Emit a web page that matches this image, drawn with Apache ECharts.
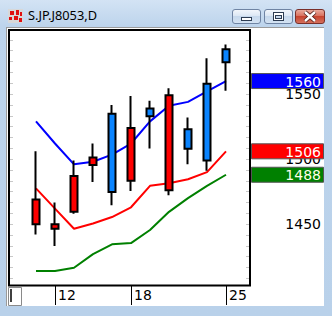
<!DOCTYPE html>
<html><head><meta charset="utf-8">
<script src="https://cdn.jsdelivr.net/npm/echarts@6/dist/echarts.min.js"></script>
<style>
html,body{margin:0;padding:0;width:332px;height:316px;overflow:hidden;}
#win{position:absolute;left:0;top:0;width:332px;height:316px;background:linear-gradient(to bottom,#d3e3f4 0px,#bdd4ec 26px,#b9d1ea 100%);}
#client{position:absolute;left:6px;top:27px;width:317px;height:278px;background:#fff;border-left:1px solid #9a9a9a;border-top:1px solid #9a9a9a;}
#title{position:absolute;left:28px;top:9px;font-family:"Noto Sans";font-size:12.8px;line-height:12px;color:#000;white-space:nowrap;}
#icon{position:absolute;left:8px;top:9px;width:15px;height:14px;background:#d8d8d8;}
#icon i{position:absolute;background:#e01010;}
.btn{position:absolute;top:9px;height:13px;border:1px solid #6f84a3;border-radius:3px;background:linear-gradient(to bottom,#f2f6fb 0%,#dce7f4 45%,#c6d8ec 50%,#d4e3f3 100%);}
#bmin{left:232px;width:27px;}
#bmax{left:264px;width:27px;}
#bclose{left:295px;width:28px;border-color:#7a2f29;background:linear-gradient(to bottom,#e9a99c 0%,#d9725f 45%,#c7442f 50%,#d5705c 100%);}
#chart{position:absolute;left:0;top:0;width:332px;height:316px;}
</style>
</head><body>
<div id="win">
  <div id="icon"><i style="left:2px;top:2px;width:4px;height:4px"></i><i style="left:8px;top:1px;width:3px;height:5px"></i><i style="left:12px;top:3px;width:2px;height:4px"></i><i style="left:1px;top:8px;width:3px;height:3px"></i><i style="left:6px;top:7px;width:4px;height:4px"></i><i style="left:11px;top:9px;width:3px;height:4px"></i></div>
  <div id="title">S.JP.J8053,D</div>
  <div class="btn" id="bmin"><svg width="27" height="13" style="position:absolute;left:0;top:0"><rect x="8.5" y="7.5" width="10" height="3" fill="#fff" stroke="#2d3c52"/></svg></div>
  <div class="btn" id="bmax"><svg width="27" height="13" style="position:absolute;left:0;top:0"><rect x="8.5" y="2.5" width="10" height="8" fill="#fff" stroke="#2d3c52"/><rect x="10.5" y="5.5" width="6" height="3" fill="#c6d8ec" stroke="#2d3c52"/></svg></div>
  <div class="btn" id="bclose"><svg width="28" height="13" style="position:absolute;left:0;top:0"><path d="M9 2 L19 11 M19 2 L9 11" stroke="#4a1a14" stroke-width="4"/><path d="M9 2 L19 11 M19 2 L9 11" stroke="#fff" stroke-width="2.4"/></svg></div>
  <div id="client"></div>
</div>
<div id="chart"></div>
<script>
// ---- data ----
const dates = ['11','12','13','14','15','18','19','20','21','22','25'];
const xTickLabels = ['12','18','25'];
const openV  = [1469, 1450, 1487, 1501.3, 1474.8, 1524, 1533, 1549, 1508, 1499, 1574.5];
const closeV = [1450, 1446.4, 1459.5, 1495.4, 1534.8, 1483.3, 1539, 1476, 1523, 1558, 1584.5];
const lowV   = [1442, 1433.3, 1458, 1482.5, 1464.6, 1475.6, 1508.2, 1472.3, 1496, 1491, 1552.5];
const highV  = [1506, 1466.7, 1499, 1512, 1541.5, 1548.5, 1544.8, 1554.4, 1532, 1577.5, 1588];
const maBlue  = [1529, 1512, 1496, 1498, 1503.5, 1512, 1529, 1541, 1544, 1552, 1560];
const maRed   = [1477.5, 1462, 1446.5, 1450.5, 1455.5, 1463, 1479.5, 1481.5, 1484.5, 1490, 1506];
const maGreen = [1414, 1414, 1416.5, 1427, 1434.5, 1435.5, 1445.5, 1459.5, 1470, 1479.5, 1488];
const yTickLabels = [1450, 1500, 1550];
const yMin = 1402.5, yMax = 1600;

// ---- build ----
const minorStep = 100 / 12;
const minorTicks = [];
for (let v = 1550; v <= yMax; v += minorStep) minorTicks.push(v);
for (let v = 1550 - minorStep; v >= yMin; v -= minorStep) minorTicks.push(v);

const candleData = dates.map((d, i) => [openV[i], closeV[i], lowV[i], highV[i]]);
const FONT = 'DejaVu Sans';

const chart = echarts.init(document.getElementById('chart'), null, {renderer: 'svg'});
const showIdx = (i, v) => xTickLabels.indexOf(v) >= 0;

chart.setOption({
  animation: false,
  backgroundColor: 'transparent',
  grid: {left: 26.5, width: 209, top: 29, height: 257},
  xAxis: {
    type: 'category', data: dates, boundaryGap: true,
    axisLine: {show: false},
    axisTick: {show: true, alignWithLabel: true, interval: showIdx, length: 19, lineStyle: {color: '#000', width: 1}},
    axisLabel: {show: true, interval: showIdx, align: 'left', margin: 3, padding: [0, 0, 0, 3],
      color: '#000', fontFamily: FONT, fontSize: 14, lineHeight: 12},
    splitLine: {show: false}
  },
  yAxis: [
    {type: 'value', position: 'left', offset: 17.5, min: yMin, max: yMax, scale: true,
      axisLine: {show: false}, axisLabel: {show: false}, splitLine: {show: false},
      axisTick: {show: true, inside: true, length: 4, customValues: minorTicks, lineStyle: {color: '#c8c8c8', width: 1}}},
    {type: 'value', position: 'right', offset: 14.5, min: yMin, max: yMax, scale: true,
      axisLine: {show: false}, splitLine: {show: false},
      axisTick: {show: true, inside: true, length: 4, customValues: minorTicks, lineStyle: {color: '#c8c8c8', width: 1}},
      axisLabel: {show: true, customValues: yTickLabels, align: 'right', margin: 71, color: '#000',
        fontFamily: FONT, fontSize: 14, lineHeight: 11, formatter: v => String(Math.round(v))}}
  ],
  series: [
    {type: 'line', data: maBlue, symbol: 'none', z: 1, lineStyle: {color: '#0000ff', width: 2}},
    {type: 'line', data: maRed, symbol: 'none', z: 1, lineStyle: {color: '#ff0000', width: 2}},
    {type: 'line', data: maGreen, symbol: 'none', z: 1, lineStyle: {color: '#008000', width: 2}},
    {type: 'candlestick', data: candleData, barWidth: 8, z: 3,
      itemStyle: {color: '#0a84ff', color0: '#ff0000', borderColor: '#000', borderColor0: '#000', borderWidth: 2}}
  ]
});

const tags = [
  {v: maBlue[maBlue.length - 1], fill: '#0000ff', text: '#ffffff'},
  {v: maRed[maRed.length - 1], fill: '#ff0000', text: '#ffffff'},
  {v: maGreen[maGreen.length - 1], fill: '#008000', text: '#ffffe8'}
];
const graphics = [
  {type: 'rect', id: 'frame', z: 50, shape: {x: 9, y: 30, width: 241, height: 255.5}, style: {fill: null, stroke: '#000', lineWidth: 2}},
  {type: 'rect', id: 'sbox', z: 50, shape: {x: 8.5, y: 287.5, width: 13, height: 18}, style: {fill: '#fff', stroke: '#8a8a8a', lineWidth: 1}},
  {type: 'line', id: 'sline', z: 51, shape: {x1: 11, y1: 289, x2: 11, y2: 302}, style: {stroke: '#000', lineWidth: 1.5}}
];
tags.forEach((t, i) => {
  const y = chart.convertToPixel({yAxisIndex: 0}, t.v);
  graphics.push({type: 'rect', id: 'tag' + i, z: 60, shape: {x: 251.5, y: y - 7.5, width: 72, height: 15},
    style: {fill: t.fill, stroke: '#555', lineWidth: 1}});
  graphics.push({type: 'text', id: 'tagt' + i, z: 61, x: 321, y: y + 0.5,
    style: {text: String(t.v), fill: t.text, font: '14px "DejaVu Sans"', align: 'right', verticalAlign: 'middle'}});
});
chart.setOption({graphic: graphics});
</script>
</body></html>
